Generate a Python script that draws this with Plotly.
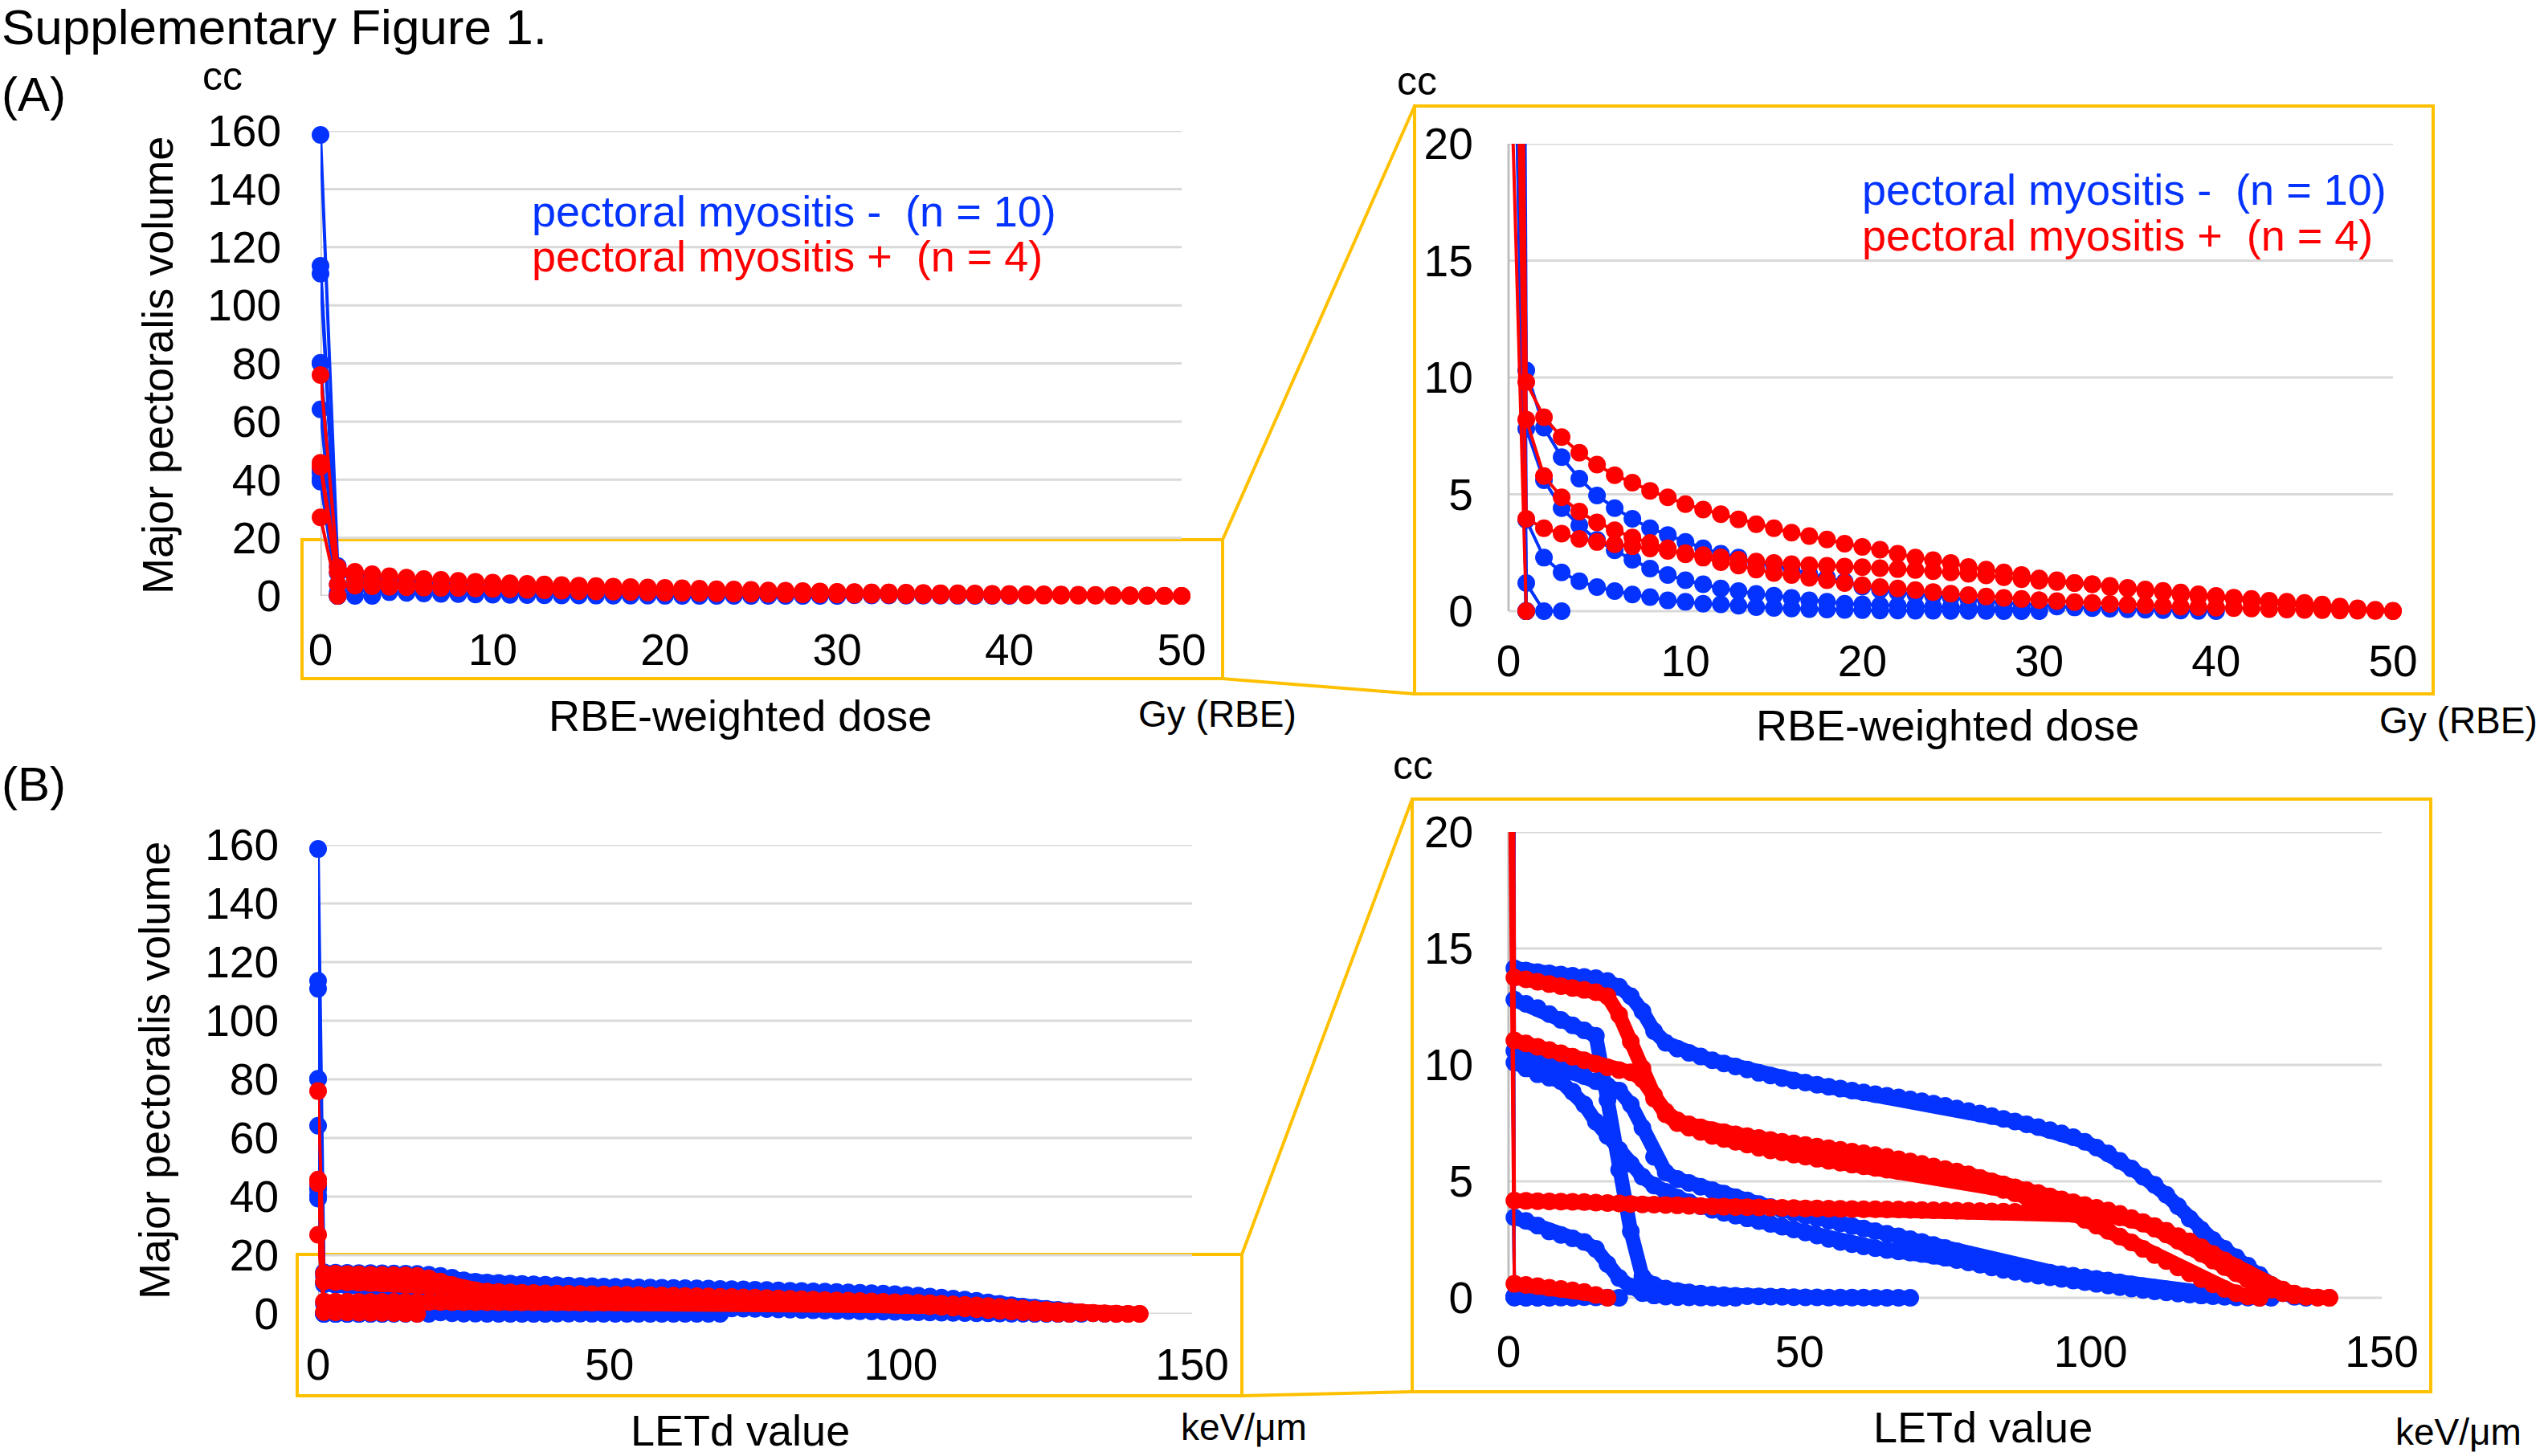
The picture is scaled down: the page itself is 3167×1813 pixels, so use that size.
import plotly.graph_objects as go

# ---------------- data ----------------
DOSE_X = list(range(0, 51))                 # Gy(RBE) sampling grid
LET_X = [0] + list(range(1, 142, 2))        # keV/um sampling grid

# (A) RBE-weighted dose-volume curves, values in cc at DOSE_X
A_NEG_1 = [158.6, 10.3, 7.85, 6.59, 5.67, 4.95, 4.41, 3.95, 3.55, 3.26, 2.96, 2.69, 2.46, 2.29, 2.06, 1.95, 1.78, 1.6, 1.43, 1.26, 1.05, 0.9, 0.8, 0.72, 0.65, 0.58, 0.5, 0.43, 0.36, 0.3, 0.25, 0.2, 0.16, 0.13, 0.1, 0.08, 0.06, 0.04, 0.03, 0.01, 0]
A_NEG_2 = [113.6, 7.8, 5.6, 4.41, 3.67, 3.05, 2.6, 2.2, 1.82, 1.55, 1.32, 1.15, 0.97, 0.86, 0.74, 0.66, 0.57, 0.46, 0.4, 0.32, 0.29, 0.25, 0.23, 0.21, 0.19, 0.17, 0.15, 0.13, 0.11, 0.09, 0.07]
A_NEG_3 = [110.9, 3.9, 2.29, 1.66, 1.28, 1.03, 0.86, 0.71, 0.6, 0.46, 0.4, 0.32, 0.29, 0.23, 0.17, 0.14, 0.11, 0.09, 0.07, 0.05, 0.04, 0.03, 0.03, 0.02, 0.02, 0.01, 0.01, 0.01, 0, 0, 0]
A_NEG_4 = [80.2, 1.2, 0, 0]
A_NEG_5 = [80.0, 0]
A_NEG_6 = [64.2, 0]
A_NEG_7 = [43.6, 0]
A_NEG_8 = [42.5, 0]
A_NEG_9 = [40.5, 0]
A_NEG_10 = [39.3, 0]
A_POS_1 = [76, 9.8, 8.3, 7.45, 6.78, 6.27, 5.82, 5.5, 5.15, 4.87, 4.58, 4.35, 4.15, 3.93, 3.72, 3.55, 3.36, 3.21, 3.07, 2.89, 2.75, 2.63, 2.46, 2.29, 2.18, 2.06, 1.89, 1.78, 1.66, 1.55, 1.4, 1.32, 1.2, 1.15, 1.03, 0.97, 0.86, 0.8, 0.69, 0.63, 0.6, 0.52, 0.4, 0.34, 0.29, 0.23, 0.17, 0.11, 0.08, 0.03, 0]
A_POS_2 = [45.8, 8.2, 5.78, 4.87, 4.26, 3.8, 3.46, 3.15, 2.92, 2.69, 2.43, 2.29, 2.1, 1.95, 1.78, 1.63, 1.55, 1.43, 1.32, 1.2, 1.11, 1.03, 0.97, 0.9, 0.82, 0.75, 0.69, 0.63, 0.57, 0.52, 0.47, 0.43, 0.39, 0.35, 0.31, 0.28, 0.25, 0.22, 0.19, 0.17, 0.15, 0.13, 0.11, 0.09, 0.07, 0.05, 0.04, 0.03, 0.02, 0.01, 0]
A_POS_3 = [44.5, 3.95, 3.55, 3.32, 3.09, 2.96, 2.86, 2.78, 2.68, 2.58, 2.48, 2.4, 2.3, 2.2, 2.12, 2.06, 2.01, 1.97, 1.94, 1.91, 1.88, 1.84, 1.8, 1.76, 1.71, 1.66, 1.6, 1.53, 1.45, 1.37, 1.3, 1.25, 1.2, 1.15, 1.08, 1.0, 0.93, 0.87, 0.8, 0.72, 0.65, 0.58, 0.52, 0.45, 0.4, 0.35, 0.28, 0.2, 0.12, 0.06, 0.02]
A_POS_4 = [27, 0]

# (B) LETd-volume curves, values in cc at LET_X
B_NEG_1 = [158.6, 14.15, 14.05, 13.98, 13.93, 13.88, 13.83, 13.78, 13.72, 13.6, 13.35, 12.95, 12.3, 11.45, 10.95, 10.7, 10.52, 10.36, 10.2, 10.06, 9.93, 9.8, 9.66, 9.54, 9.43, 9.33, 9.24, 9.15, 9.06, 8.98, 8.9, 8.82, 8.74, 8.67, 8.6, 8.52, 8.44, 8.34, 8.24, 8.13, 8.02, 7.91, 7.8, 7.68, 7.57, 7.45, 7.33, 7.2, 7.06, 6.9, 6.7, 6.45, 6.2, 5.88, 5.55, 5.2, 4.85, 4.42, 3.93, 3.4, 2.92, 2.48, 2.1, 1.74, 1.38, 0.98, 0.55, 0.2, 0.04, 0]
B_NEG_2 = [113.6, 12.8, 12.62, 12.44, 12.18, 11.93, 11.7, 11.48, 11.25, 8.5, 5.5, 2.85, 0.9, 0.55, 0.4, 0.29, 0.23, 0.18, 0.14, 0.11, 0.09, 0.07, 0.06, 0.05, 0.04, 0.03, 0.02, 0.02, 0.01, 0.01, 0.01, 0.01, 0, 0, 0, 0]
B_NEG_3 = [110.9, 10.6, 10.42, 10.24, 10.07, 9.88, 9.71, 9.52, 9.3, 9.1, 8.9, 8.3, 7.3, 6.05, 5.38, 5.1, 4.93, 4.77, 4.62, 4.47, 4.32, 4.18, 4.03, 3.9, 3.78, 3.65, 3.53, 3.41, 3.3, 3.19, 3.08, 2.97, 2.86, 2.75, 2.64, 2.52, 2.4, 2.27, 2.14, 2.0, 1.86, 1.72, 1.58, 1.46, 1.35, 1.25, 1.16, 1.08, 1.01, 0.95, 0.88, 0.81, 0.74, 0.66, 0.58, 0.5, 0.43, 0.36, 0.29, 0.22, 0.16, 0.12, 0.08, 0.05, 0.03, 0.01, 0]
B_NEG_4 = [80.2, 10.1, 9.85, 9.6, 9.45, 9.3, 8.85, 8.3, 7.56, 6.95, 6.35, 5.75, 5.2, 4.82, 4.55, 4.3, 4.1, 3.93, 3.78, 3.65, 3.53, 3.41, 3.29, 3.17, 3.05, 2.93, 2.8, 2.67, 2.53, 2.4, 2.3, 2.21, 2.13, 2.05, 1.99, 1.94, 1.88, 1.8, 1.72, 1.62, 1.52, 1.42, 1.3, 1.2, 1.11, 1.03, 0.95, 0.88, 0.81, 0.74, 0.67, 0.6, 0.53, 0.46, 0.4, 0.34, 0.28, 0.23, 0.18, 0.14, 0.1, 0.07, 0.04, 0.02, 0.01, 0]
B_NEG_5 = [80.0, 0.03, 0.02, 0.01, 0]
B_NEG_6 = [64.2, 3.45, 3.3, 3.1, 2.85, 2.7, 2.55, 2.4, 2.1, 1.45, 0.85, 0.48, 0.2, 0.1, 0.05, 0.03, 0.02, 0.01, 0.01, 0, 0]
B_NEG_7 = [43.6, 0.05, 0.04, 0.03, 0.02, 0.01, 0]
B_NEG_8 = [42.5, 0.06, 0.05, 0.05, 0.04, 0.04, 0.03, 0.03, 0.02, 0.01, 0]
B_NEG_9 = [40.5, 0.02, 0.01, 0]
B_NEG_10 = [39.3, 0.01, 0]
B_POS_1 = [76, 13.75, 13.67, 13.57, 13.47, 13.38, 13.3, 13.22, 13.12, 12.95, 12.15, 11.0, 9.85, 8.7, 8.0, 7.62, 7.45, 7.32, 7.2, 7.11, 7.02, 6.94, 6.86, 6.78, 6.7, 6.63, 6.56, 6.49, 6.42, 6.35, 6.28, 6.21, 6.13, 6.05, 5.95, 5.85, 5.75, 5.64, 5.53, 5.42, 5.3, 5.15, 5.0, 4.87, 4.74, 4.62, 4.5, 4.35, 4.22, 4.1, 3.98, 3.86, 3.75, 3.6, 3.42, 3.25, 3.08, 2.88, 2.65, 2.42, 2.17, 1.88, 1.6, 1.32, 1.05, 0.78, 0.55, 0.35, 0.18, 0.06, 0.01, 0]
B_POS_2 = [45.8, 11.05, 10.92, 10.78, 10.64, 10.5, 10.35, 10.2, 10.04, 9.9, 9.78, 9.68, 9.38, 8.55, 7.88, 7.5, 7.3, 7.12, 6.95, 6.82, 6.7, 6.58, 6.44, 6.33, 6.24, 6.15, 6.06, 5.97, 5.88, 5.8, 5.72, 5.65, 5.58, 5.5, 5.44, 5.38, 5.31, 5.25, 5.18, 5.1, 5.0, 4.9, 4.78, 4.63, 4.48, 4.33, 4.18, 4.05, 3.85, 3.6, 3.35, 3.1, 2.87, 2.63, 2.38, 2.1, 1.84, 1.58, 1.3, 1.05, 0.8, 0.58, 0.38, 0.2, 0.06, 0]
B_POS_3 = [44.5, 4.17, 4.16, 4.15, 4.14, 4.13, 4.12, 4.11, 4.09, 4.07, 4.05, 4.03, 4.01, 4.0, 3.98, 3.97, 3.95, 3.94, 3.92, 3.91, 3.9, 3.89, 3.88, 3.87, 3.86, 3.85, 3.84, 3.84, 3.83, 3.82, 3.81, 3.8, 3.8, 3.79, 3.79, 3.78, 3.77, 3.76, 3.75, 3.74, 3.73, 3.72, 3.71, 3.7, 3.69, 3.68, 3.67, 3.66, 3.64, 3.62, 3.6, 3.56, 3.51, 3.45, 3.35, 3.18, 2.97, 2.72, 2.45, 2.18, 1.9, 1.6, 1.32, 1.05, 0.78, 0.55, 0.35, 0.2, 0.1, 0.04, 0.01, 0]
B_POS_4 = [27, 0.6, 0.55, 0.5, 0.43, 0.38, 0.32, 0.25, 0.12, 0]

A_NEG = [A_NEG_1, A_NEG_2, A_NEG_3, A_NEG_4, A_NEG_5, A_NEG_6, A_NEG_7, A_NEG_8, A_NEG_9, A_NEG_10]
A_POS = [A_POS_1, A_POS_2, A_POS_3, A_POS_4]
B_NEG = [B_NEG_1, B_NEG_2, B_NEG_3, B_NEG_4, B_NEG_5, B_NEG_6, B_NEG_7, B_NEG_8, B_NEG_9, B_NEG_10]
B_POS = [B_POS_1, B_POS_2, B_POS_3, B_POS_4]

VOL_TICKS_FULL = [0, 20, 40, 60, 80, 100, 120, 140, 160]
VOL_TICKS_ZOOM = [0, 5, 10, 15, 20]
DOSE_TICKS = [0, 10, 20, 30, 40, 50]
LET_TICKS = [0, 50, 100, 150]

TITLE = "Supplementary Figure 1."
Y_TITLE = "Major pectoralis volume"
LEG_NEG = "pectoral myositis -\u00a0\u00a0(n = 10)"
LEG_POS = "pectoral myositis +\u00a0\u00a0(n = 4)"

# ---------------- styling ----------------
W, H = 3167, 1813
BLUE = "#0433FF"
RED = "#FF0000"
ORANGE = "#FFC000"
GRID = "#D9D9D9"
AXLINE = "#BFBFBF"
FONT = "Liberation Sans, Arial, Helvetica, sans-serif"


def px(x):
    return x / W


def py(y):
    return 1 - y / H


fig = go.Figure()


def add_group(curves, xgrid, color, xa, ya, clip, band=4):
    for vals in curves:
        xs = xgrid[:len(vals)]
        # entry segment from the total-volume point (thin line)
        fig.add_trace(go.Scatter(
            x=xs[:2], y=vals[:2], mode="lines",
            line=dict(color=color, width=4),
            xaxis=xa, yaxis=ya, cliponaxis=clip,
            showlegend=False, hoverinfo="skip"))
        fig.add_trace(go.Scatter(
            x=[xs[0]], y=[vals[0]], mode="markers",
            marker=dict(color=color, size=22),
            xaxis=xa, yaxis=ya, cliponaxis=clip,
            showlegend=False, hoverinfo="skip"))
        # the rest of the curve
        fig.add_trace(go.Scatter(
            x=xs[1:], y=vals[1:], mode="lines+markers",
            line=dict(color=color, width=band),
            marker=dict(color=color, size=22),
            xaxis=xa, yaxis=ya, cliponaxis=clip,
            showlegend=False, hoverinfo="skip"))


add_group(A_NEG, DOSE_X, BLUE, "x", "y", False)
add_group(A_POS, DOSE_X, RED, "x", "y", False)
add_group(A_NEG, DOSE_X, BLUE, "x2", "y2", True)
add_group(A_POS, DOSE_X, RED, "x2", "y2", True)
add_group(B_NEG, LET_X, BLUE, "x3", "y3", False, band=18)
add_group(B_POS, LET_X, RED, "x3", "y3", False, band=18)
add_group(B_NEG, LET_X, BLUE, "x4", "y4", True, band=18)
add_group(B_POS, LET_X, RED, "x4", "y4", True, band=18)

tickfont = dict(family=FONT, size=55, color="black")


def xax(dom, rng, tv, anchor, standoff):
    return dict(domain=[px(dom[0]), px(dom[1])], range=rng, tickvals=tv, anchor=anchor,
                showgrid=False, zeroline=False, showline=False, ticks="", automargin=False,
                tickfont=tickfont, ticklabelstandoff=standoff, fixedrange=True)


def yax(dom, rng, tv, anchor, standoff):
    return dict(domain=[py(dom[0]), py(dom[1])], range=rng, tickvals=tv, anchor=anchor,
                showgrid=False, zeroline=False, showline=False, ticks="", automargin=False,
                tickfont=tickfont, ticklabelstandoff=standoff, fixedrange=True)


shapes = []


def grid(xref, yref, xmax, yvals, ytop):
    for v in yvals:
        shapes.append(dict(type="line", xref=xref, yref=yref, x0=0, x1=xmax, y0=v, y1=v,
                           line=dict(color=GRID, width=3), layer="below"))
    shapes.append(dict(type="line", xref=xref, yref=yref, x0=0, x1=0, y0=0, y1=ytop,
                       line=dict(color=AXLINE, width=3), layer="below"))


grid("x", "y", 50, VOL_TICKS_FULL, 160)
grid("x2", "y2", 50, VOL_TICKS_ZOOM, 20)
grid("x3", "y3", 150, VOL_TICKS_FULL, 160)
grid("x4", "y4", 150, VOL_TICKS_ZOOM, 20)


def pline(x0, y0, x1, y1):
    shapes.append(dict(type="line", xref="paper", yref="paper", x0=px(x0), y0=py(y0),
                       x1=px(x1), y1=py(y1), line=dict(color=ORANGE, width=4), layer="below"))


def prect(x0, y0, x1, y1):
    shapes.append(dict(type="rect", xref="paper", yref="paper", x0=px(x0), y0=py(y1),
                       x1=px(x1), y1=py(y0), line=dict(color=ORANGE, width=4),
                       fillcolor="rgba(0,0,0,0)", layer="below"))


prect(376, 672, 1522, 845)
prect(1761, 132, 3029, 864)
pline(1522, 672, 1761, 132)
pline(1522, 845, 1761, 864)
prect(370, 1562, 1546, 1738)
prect(1758, 995, 3026, 1733)
pline(1546, 1562, 1758, 995)
pline(1546, 1738, 1758, 1733)

ann = []


def text(t, x, y, size=54, color="black", xanchor="center", angle=0):
    ann.append(dict(text=t, x=px(x), y=py(y), xref="paper", yref="paper", showarrow=False,
                    xanchor=xanchor, yanchor="middle", textangle=angle,
                    font=dict(family=FONT, size=size, color=color)))


text(TITLE, 0, 33, size=62, xanchor="left")
text("(A)", 0, 117, size=60, xanchor="left")
text("(B)", 0, 976, size=60, xanchor="left")
text("cc", 277, 95, size=50)
text("cc", 1764, 101, size=50)
text("cc", 1759, 953, size=50)
text(Y_TITLE, 196, 455, angle=-90)
text(Y_TITLE, 192, 1333, angle=-90)
text("RBE-weighted dose", 921, 891)
text("Gy (RBE)", 1515, 889, size=46)
text("RBE-weighted dose", 2424, 903)
text("Gy (RBE)", 3060, 897, size=46)
text("LETd value", 921, 1781)
text("keV/\u03bcm", 1548, 1777, size=46)
text("LETd value", 2468, 1777)
text("keV/\u03bcm", 3060, 1783, size=46)
text(LEG_NEG, 660, 263, color=BLUE, xanchor="left")
text(LEG_POS, 660, 319, color=RED, xanchor="left")
text(LEG_NEG, 2316, 236, color=BLUE, xanchor="left")
text(LEG_POS, 2316, 293, color=RED, xanchor="left")

fig.update_layout(
    width=W, height=H, autosize=False,
    margin=dict(l=0, r=0, t=0, b=0, pad=0, autoexpand=False),
    paper_bgcolor="white", plot_bgcolor="rgba(0,0,0,0)",
    showlegend=False,
    xaxis=xax((399, 1471), [0, 50], DOSE_TICKS, "y", 30),
    yaxis=yax((742, 163), [0, 160], VOL_TICKS_FULL, "x", 48),
    xaxis2=xax((1864.8, 2990), [-0.6, 50.5], DOSE_TICKS, "y2", 12),
    yaxis2=yax((774.1, 179), [-0.45, 20], VOL_TICKS_ZOOM, "x2", 30),
    xaxis3=xax((396, 1484), [0, 150], LET_TICKS, "y3", 26),
    yaxis3=yax((1636, 1052), [0, 160], VOL_TICKS_FULL, "x3", 48),
    xaxis4=xax((1867.1, 2975.9), [-1.5, 151.5], LET_TICKS, "y4", 17),
    yaxis4=yax((1629.05, 1036), [-0.45, 20], VOL_TICKS_ZOOM, "x4", 32),
    shapes=shapes, annotations=ann,
)

fig.write_html("out.html")
